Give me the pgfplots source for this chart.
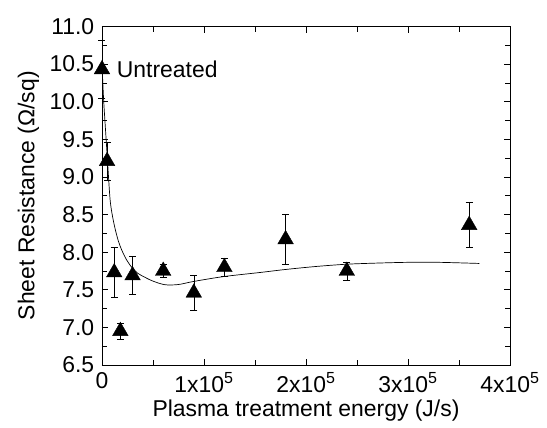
\documentclass[border=0pt]{standalone}
\usepackage{pgfplots}
\pgfplotsset{compat=1.18}
\usepackage{fontspec}
\setmainfont{Liberation Sans}
\begin{document}
\fontsize{23}{27}\selectfont
\begin{tikzpicture}
\useasboundingbox (-102bp,-63bp) rectangle (445bp,365bp);
\begin{axis}[
  at={(0,0)}, anchor=south west,
  scale only axis, width=408bp, height=338.5bp,
  xmin=0, xmax=400000, ymin=6.5, ymax=11,
  scaled x ticks=false,
  xtick={0,100000,200000,300000,400000},
  xticklabels={0,1x10\textsuperscript{5},2x10\textsuperscript{5},3x10\textsuperscript{5},4x10\textsuperscript{5}},
  ytick={6.5,7,7.5,8,8.5,9,9.5,10,10.5,11},
  yticklabels={6.5,7.0,7.5,8.0,8.5,9.0,9.5,10.0,10.5,11.0},
  minor x tick num=1, minor y tick num=1,
  major tick length=6bp, minor tick length=5bp,
  tick style={black, line width=0.6pt},
  axis line style={line width=0.8pt},
  ticklabel style={font=\fontsize{23}{27}\selectfont},
  label style={font=\fontsize{23}{27}\selectfont},
  xlabel={Plasma treatment energy (J/s)},
  xlabel style={yshift=9bp},
  ylabel={Sheet Resistance (Ω/sq)},
  ylabel style={yshift=-5bp},
  clip=false,
]
\addplot[black, line width=0.7pt, smooth, tension=0.5] coordinates {
(0,10.50) (1500,10.05) (3000,9.72) (5000,9.30) (7800,8.72) (10000,8.50)
(12700,8.32) (16000,8.15) (19300,8.03) (24000,7.90) (29100,7.80) (35000,7.72)
(42200,7.665) (50000,7.615) (61800,7.567) (75000,7.57) (89500,7.61)
(119000,7.675) (155000,7.73) (180000,7.77) (210000,7.81) (240000,7.84)
(270000,7.855) (300000,7.865) (330000,7.865) (370000,7.85)
};
\addplot[only marks, mark=triangle*, mark size=9bp, black,
  error bars/.cd, y dir=both, y explicit,
  error bar style={black, line width=0.6pt},
  error mark options={rotate=90, mark size=3.5bp, line width=0.6pt, black}]
  table[x=x, y=y, y error=e] {
x y e
0 10.43 0.38
5000 9.21 0.25
12000 7.73 0.33
18000 6.95 0.11
30000 7.69 0.25
60000 7.75 0.09
90000 7.46 0.23
120000 7.80 0.12
180000 8.17 0.33
240000 7.75 0.12
360000 8.36 0.30
};
\node[anchor=west, inner sep=0pt] at (axis cs:14400,10.43) {Untreated};
\end{axis}
\end{tikzpicture}
\end{document}
